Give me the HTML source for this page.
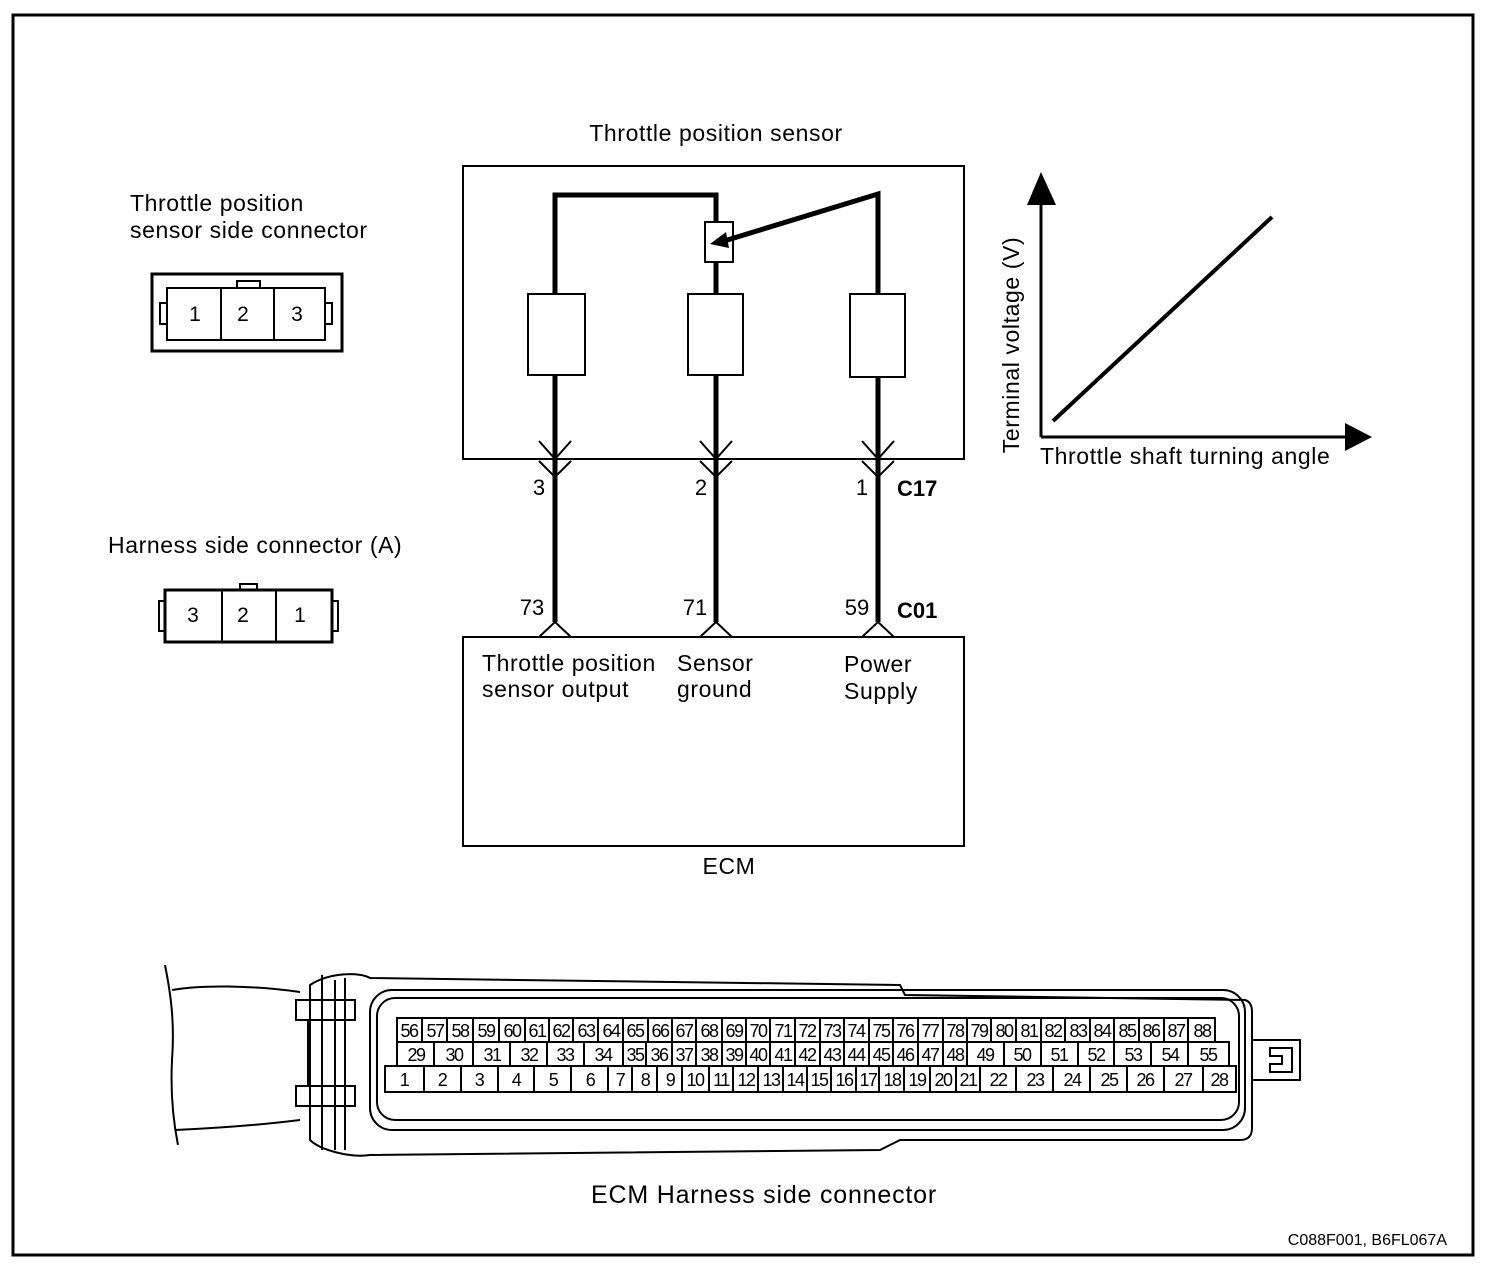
<!DOCTYPE html>
<html><head><meta charset="utf-8"><style>
html,body{margin:0;padding:0;background:#fff}
svg{display:block}
text{font-family:"Liberation Sans",Arial,sans-serif;fill:#000}
</style></head><body>
<svg width="1504" height="1270" viewBox="0 0 1504 1270" xmlns="http://www.w3.org/2000/svg">
<rect x="13" y="15" width="1460" height="1240" fill="none" stroke="#000" stroke-width="3"/>

<g font-size="23" letter-spacing="0.6">
<text x="130" y="211">Throttle position</text>
<text x="130" y="238">sensor side connector</text>
<text x="108" y="553">Harness side connector (A)</text>
<text x="716" y="141" text-anchor="middle">Throttle position sensor</text>
<text x="482" y="671">Throttle position</text>
<text x="482" y="697">sensor output</text>
<text x="677" y="671">Sensor</text>
<text x="677" y="697">ground</text>
<text x="844" y="672">Power</text>
<text x="844" y="699">Supply</text>
<text x="729" y="874" text-anchor="middle">ECM</text>
<text transform="translate(1019,345) rotate(-90)" text-anchor="middle">Terminal voltage (V)</text>
<text x="1040" y="464">Throttle shaft turning angle</text>
<text x="764" y="1203" text-anchor="middle" font-size="25" letter-spacing="0.8">ECM Harness side connector</text>
</g>

<!-- top-left connector -->
<rect x="152" y="274" width="190" height="77" fill="none" stroke="#000" stroke-width="3"/>
<rect x="167" y="288" width="158" height="52" fill="none" stroke="#000" stroke-width="2"/>
<line x1="221" y1="288" x2="221" y2="340" stroke="#000" stroke-width="2"/>
<line x1="274" y1="288" x2="274" y2="340" stroke="#000" stroke-width="2"/>
<path d="M237 288 V281 H260 V288" fill="none" stroke="#000" stroke-width="2"/>
<path d="M167 303 H160 V324 H167" fill="none" stroke="#000" stroke-width="2"/>
<path d="M325 303 H332 V324 H325" fill="none" stroke="#000" stroke-width="2"/>
<text x="195" y="321" font-size="21" text-anchor="middle">1</text>
<text x="243" y="321" font-size="21" text-anchor="middle">2</text>
<text x="297" y="321" font-size="21" text-anchor="middle">3</text>

<!-- harness connector -->
<rect x="165" y="590" width="167" height="52" fill="none" stroke="#000" stroke-width="3"/>
<line x1="222" y1="590" x2="222" y2="642" stroke="#000" stroke-width="2"/>
<line x1="276" y1="590" x2="276" y2="642" stroke="#000" stroke-width="2"/>
<path d="M240 590 V584 H257 V590" fill="none" stroke="#000" stroke-width="2"/>
<path d="M165 601 H159 V631 H165" fill="none" stroke="#000" stroke-width="2"/>
<path d="M332 601 H338 V631 H332" fill="none" stroke="#000" stroke-width="2"/>
<text x="193" y="622" font-size="21" text-anchor="middle">3</text>
<text x="243" y="622" font-size="21" text-anchor="middle">2</text>
<text x="300" y="622" font-size="21" text-anchor="middle">1</text>

<!-- sensor -->
<rect x="463" y="166" width="501" height="293" fill="none" stroke="#000" stroke-width="2"/>
<g fill="none" stroke="#000" stroke-width="5">
<path d="M555 294 V195 H716 V222"/>
<line x1="716" y1="262" x2="716" y2="294"/>
<line x1="555" y1="375" x2="555" y2="622"/>
<line x1="716" y1="375" x2="716" y2="622"/>
<line x1="878" y1="377" x2="878" y2="622"/>
<path d="M878 294 V194 L724 241"/>
</g>
<polygon points="710,244 726,232 729,248" fill="#000"/>
<g fill="none" stroke="#000" stroke-width="2">
<rect x="705" y="222" width="28" height="40"/>
<rect x="528" y="294" width="57" height="81"/>
<rect x="688" y="294" width="55" height="81"/>
<rect x="850" y="294" width="55" height="83"/>
<path d="M539 441 L555 459 L571 441 M539 461 L555 477 L571 461 M539 637 L555 622 L571 637"/>
<path d="M700 441 L716 459 L732 441 M700 461 L716 477 L732 461 M700 637 L716 622 L732 637"/>
<path d="M862 441 L878 459 L894 441 M862 461 L878 477 L894 461 M862 637 L878 622 L894 637"/>
</g>
<g font-size="22">
<text x="539" y="495" text-anchor="middle">3</text>
<text x="701" y="495" text-anchor="middle">2</text>
<text x="862" y="495" text-anchor="middle">1</text>
<text x="897" y="496" font-weight="bold">C17</text>
<text x="532" y="615" text-anchor="middle">73</text>
<text x="695" y="615" text-anchor="middle">71</text>
<text x="857" y="615" text-anchor="middle">59</text>
<text x="897" y="618" font-weight="bold">C01</text>
</g>

<!-- ECM -->
<rect x="463" y="637" width="501" height="209" fill="none" stroke="#000" stroke-width="2"/>

<!-- graph -->
<line x1="1041" y1="200" x2="1041" y2="437" stroke="#000" stroke-width="3"/>
<polygon points="1041,172 1027,205 1056,205" fill="#000"/>
<line x1="1041" y1="437" x2="1346" y2="437" stroke="#000" stroke-width="3"/>
<polygon points="1372,437 1345,423 1345,451" fill="#000"/>
<line x1="1053" y1="421" x2="1272" y2="217" stroke="#000" stroke-width="4"/>

<!-- ECM harness connector -->
<g fill="none" stroke="#000" stroke-width="2">
<path d="M165 965 C170 990 175 1020 172 1060 C170 1100 175 1130 178 1145"/>
<path d="M172 990 C200 985 250 985 300 992 M175 1130 C220 1128 260 1125 300 1120"/>
<path d="M310 985 C330 972 360 972 370 978 L900 985 L905 995 L1245 1000 Q1252 1002 1252 1012 L1252 1128 Q1252 1140 1240 1140 L900 1140 L880 1150 L370 1155 C350 1158 320 1150 310 1140 Z"/>
<path d="M322 975 L322 1150 M335 980 L335 1150 M345 978 L345 1150"/>
<path d="M296 1000 H355 V1020 H296 Z M296 1086 H355 V1106 H296 Z"/>
<path d="M308 1020 V1086"/>
<rect x="370" y="990" width="875" height="140" rx="22"/>
<rect x="377" y="998" width="862" height="122" rx="18"/>
<path d="M1252 1040 H1300 V1080 H1252 M1270 1048 H1292 V1072 H1270 V1064 H1282 V1056 H1270 Z"/>
</g>
<g fill="none" stroke="#000" stroke-width="2">
<rect x="397" y="1018" width="818" height="24"/>
<rect x="397" y="1042" width="832" height="24"/>
<rect x="385" y="1066" width="851" height="26"/>
<path d="M422 1018V1042M447 1018V1042M473 1018V1042M499 1018V1042M525 1018V1042M549 1018V1042M573 1018V1042M598 1018V1042M623 1018V1042M648 1018V1042M672 1018V1042M696 1018V1042M722 1018V1042M746 1018V1042M770 1018V1042M795 1018V1042M820 1018V1042M844 1018V1042M869 1018V1042M893 1018V1042M918 1018V1042M943 1018V1042M967 1018V1042M991 1018V1042M1016 1018V1042M1041 1018V1042M1065 1018V1042M1090 1018V1042M1114 1018V1042M1139 1018V1042M1164 1018V1042M1188 1018V1042"/>
<path d="M434 1042V1066M473 1042V1066M510 1042V1066M547 1042V1066M584 1042V1066M623 1042V1066M646 1042V1066M672 1042V1066M696 1042V1066M722 1042V1066M746 1042V1066M770 1042V1066M795 1042V1066M820 1042V1066M844 1042V1066M869 1042V1066M893 1042V1066M918 1042V1066M943 1042V1066M967 1042V1066M1004 1042V1066M1041 1042V1066M1078 1042V1066M1114 1042V1066M1151 1042V1066M1188 1042V1066"/>
<path d="M424 1066V1092M461 1066V1092M498 1066V1092M534 1066V1092M571 1066V1092M608 1066V1092M632 1066V1092M657 1066V1092M682 1066V1092M709 1066V1092M733 1066V1092M758 1066V1092M783 1066V1092M807 1066V1092M831 1066V1092M856 1066V1092M879 1066V1092M904 1066V1092M930 1066V1092M956 1066V1092M980 1066V1092M1016 1066V1092M1053 1066V1092M1090 1066V1092M1127 1066V1092M1164 1066V1092M1203 1066V1092"/>
</g>
<g font-size="18" text-anchor="middle" letter-spacing="-1.5">
<text x="409" y="1037">56</text><text x="435" y="1037">57</text><text x="460" y="1037">58</text><text x="486" y="1037">59</text><text x="512" y="1037">60</text><text x="537" y="1037">61</text><text x="561" y="1037">62</text><text x="586" y="1037">63</text><text x="611" y="1037">64</text><text x="635" y="1037">65</text><text x="660" y="1037">66</text><text x="684" y="1037">67</text><text x="709" y="1037">68</text><text x="734" y="1037">69</text><text x="758" y="1037">70</text><text x="783" y="1037">71</text><text x="807" y="1037">72</text><text x="832" y="1037">73</text><text x="856" y="1037">74</text><text x="881" y="1037">75</text><text x="905" y="1037">76</text><text x="930" y="1037">77</text><text x="955" y="1037">78</text><text x="979" y="1037">79</text><text x="1004" y="1037">80</text><text x="1029" y="1037">81</text><text x="1053" y="1037">82</text><text x="1078" y="1037">83</text><text x="1102" y="1037">84</text><text x="1127" y="1037">85</text><text x="1151" y="1037">86</text><text x="1176" y="1037">87</text><text x="1202" y="1037">88</text>
<text x="416" y="1061">29</text><text x="454" y="1061">30</text><text x="492" y="1061">31</text><text x="529" y="1061">32</text><text x="565" y="1061">33</text><text x="603" y="1061">34</text><text x="635" y="1061">35</text><text x="659" y="1061">36</text><text x="684" y="1061">37</text><text x="709" y="1061">38</text><text x="734" y="1061">39</text><text x="758" y="1061">40</text><text x="783" y="1061">41</text><text x="807" y="1061">42</text><text x="832" y="1061">43</text><text x="856" y="1061">44</text><text x="881" y="1061">45</text><text x="905" y="1061">46</text><text x="930" y="1061">47</text><text x="955" y="1061">48</text><text x="985" y="1061">49</text><text x="1022" y="1061">50</text><text x="1059" y="1061">51</text><text x="1096" y="1061">52</text><text x="1133" y="1061">53</text><text x="1170" y="1061">54</text><text x="1208" y="1061">55</text>
<text x="404" y="1086">1</text><text x="442" y="1086">2</text><text x="479" y="1086">3</text><text x="516" y="1086">4</text><text x="553" y="1086">5</text><text x="590" y="1086">6</text><text x="620" y="1086">7</text><text x="645" y="1086">8</text><text x="670" y="1086">9</text><text x="695" y="1086">10</text><text x="721" y="1086">11</text><text x="746" y="1086">12</text><text x="771" y="1086">13</text><text x="795" y="1086">14</text><text x="819" y="1086">15</text><text x="844" y="1086">16</text><text x="868" y="1086">17</text><text x="892" y="1086">18</text><text x="917" y="1086">19</text><text x="943" y="1086">20</text><text x="968" y="1086">21</text><text x="998" y="1086">22</text><text x="1035" y="1086">23</text><text x="1072" y="1086">24</text><text x="1109" y="1086">25</text><text x="1145" y="1086">26</text><text x="1183" y="1086">27</text><text x="1219" y="1086">28</text>
</g>
<text x="1447" y="1245" font-size="16" text-anchor="end">C088F001, B6FL067A</text>
</svg>
</body></html>
